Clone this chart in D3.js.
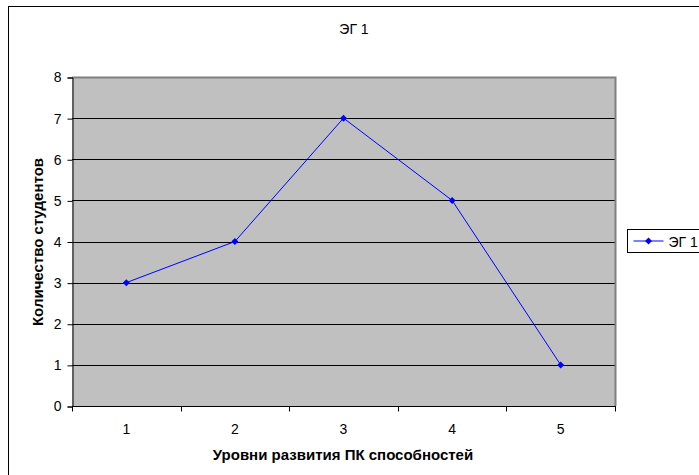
<!DOCTYPE html>
<html>
<head>
<meta charset="utf-8">
<script src="https://cdn.jsdelivr.net/npm/d3@7"></script>
<style>
  html, body { margin: 0; padding: 0; background: #fff; }
  svg { display: block; font-family: "Liberation Sans", Arial, sans-serif; }
</style>
</head>
<body>
<svg id="chart" width="699" height="475"></svg>
<script>
// Data
const categories = ["1", "2", "3", "4", "5"];
const seriesName = "ЭГ 1";
const values = [3, 4, 7, 5, 1];
const yTicks = [0, 1, 2, 3, 4, 5, 6, 7, 8];
const titleText = "ЭГ 1";
const xTitle = "Уровни развития ПК способностей";
const yTitle = "Количество студентов";

const svg = d3.select("#chart");
const W = 699, H = 475;
const FONT = "Liberation Sans, Arial, sans-serif";

// Outer chart frame
svg.append("rect")
  .attr("x", 8.5).attr("y", 6.5)
  .attr("width", W + 10).attr("height", H + 10)
  .attr("fill", "#fff").attr("stroke", "#000").attr("stroke-width", 1);

const plot = { left: 72, right: 615, top: 77, bottom: 406 };

const x = d3.scaleBand().domain(categories).range([plot.left, plot.right]);
const y = d3.scaleLinear().domain([0, 8]).range([plot.bottom, plot.top]);

// Plot area background
svg.append("rect")
  .attr("x", plot.left).attr("y", plot.top)
  .attr("width", plot.right - plot.left).attr("height", plot.bottom - plot.top)
  .attr("fill", "#c0c0c0");

// Gridlines
svg.append("g").selectAll("line")
  .data(yTicks.filter(t => t > 0 && t < 8))
  .join("line")
  .attr("x1", plot.left).attr("x2", plot.right)
  .attr("y1", d => Math.round(y(d)) + 0.5).attr("y2", d => Math.round(y(d)) + 0.5)
  .attr("stroke", "#000").attr("stroke-width", 1);

// Plot area border (top/right in gray)
svg.append("path")
  .attr("d", `M${plot.left},${plot.top + 0.5}H${plot.right + 0.5}V${plot.bottom}`)
  .attr("fill", "none").attr("stroke", "#808080").attr("stroke-width", 2);

// Y axis
const yAxis = d3.axisLeft(y).tickValues(yTicks).tickSize(5).tickPadding(6).tickFormat(d3.format("d"));
const gy = svg.append("g")
  .attr("transform", `translate(${plot.left + 0.5},0.5)`)
  .call(yAxis);
gy.select(".domain").attr("stroke", "#000");
gy.selectAll(".tick line").attr("stroke", "#000");
gy.selectAll(".tick text").attr("font-size", 14).attr("fill", "#000")
  .attr("font-family", FONT);

// X axis: ticks at category boundaries, labels at category centers
const gx = svg.append("g").attr("transform", `translate(0,${plot.bottom + 0.5})`);
gx.append("line")
  .attr("x1", plot.left).attr("x2", plot.right + 1)
  .attr("stroke", "#000");
const bounds = categories.map(c => x(c)).concat([plot.right]);
gx.selectAll("line.tk").data(bounds).join("line")
  .attr("class", "tk")
  .attr("x1", d => Math.round(d) + 0.5).attr("x2", d => Math.round(d) + 0.5)
  .attr("y1", 0).attr("y2", 5)
  .attr("stroke", "#000");
gx.selectAll("text").data(categories).join("text")
  .attr("x", d => x(d) + x.bandwidth() / 2)
  .attr("y", 27)
  .attr("text-anchor", "middle")
  .attr("font-size", 14).attr("fill", "#000")
  .text(d => d);

// Line series
const cx = (i) => x(categories[i]) + x.bandwidth() / 2;
const line = d3.line()
  .x((d, i) => cx(i))
  .y(d => y(d));
svg.append("path")
  .datum(values)
  .attr("d", line)
  .attr("fill", "none").attr("stroke", "#0000ff").attr("stroke-width", 1);

// Diamond marker
const r = 3.5;
const diamond = `M0,${-r}L${r},0L0,${r}L${-r},0Z`;
svg.append("g").selectAll("path")
  .data(values)
  .join("path")
  .attr("transform", (d, i) => `translate(${cx(i)},${y(d)})`)
  .attr("d", diamond)
  .attr("fill", "#0000ff");

// Title
svg.append("text")
  .attr("x", 354).attr("y", 34)
  .attr("text-anchor", "middle")
  .attr("font-size", 14).attr("fill", "#000")
  .text(titleText);

// Axis titles
svg.append("text")
  .attr("x", 343).attr("y", 460)
  .attr("text-anchor", "middle")
  .attr("font-size", 15).attr("font-weight", "bold").attr("fill", "#000")
  .text(xTitle);

svg.append("text")
  .attr("transform", `translate(43,242) rotate(-90)`)
  .attr("text-anchor", "middle")
  .attr("font-size", 15).attr("font-weight", "bold").attr("fill", "#000")
  .text(yTitle);

// Legend
const lg = svg.append("g").attr("transform", "translate(627.5,229.5)");
lg.append("rect")
  .attr("width", 80).attr("height", 23)
  .attr("fill", "#fff").attr("stroke", "#000");
lg.append("line")
  .attr("x1", 6).attr("x2", 36).attr("y1", 11.5).attr("y2", 11.5)
  .attr("stroke", "#0000ff");
lg.append("path")
  .attr("transform", "translate(21,11.5)")
  .attr("d", diamond).attr("fill", "#0000ff");
lg.append("text")
  .attr("x", 41).attr("y", 17)
  .attr("font-size", 14).attr("fill", "#000")
  .text(seriesName);
</script>
</body>
</html>
